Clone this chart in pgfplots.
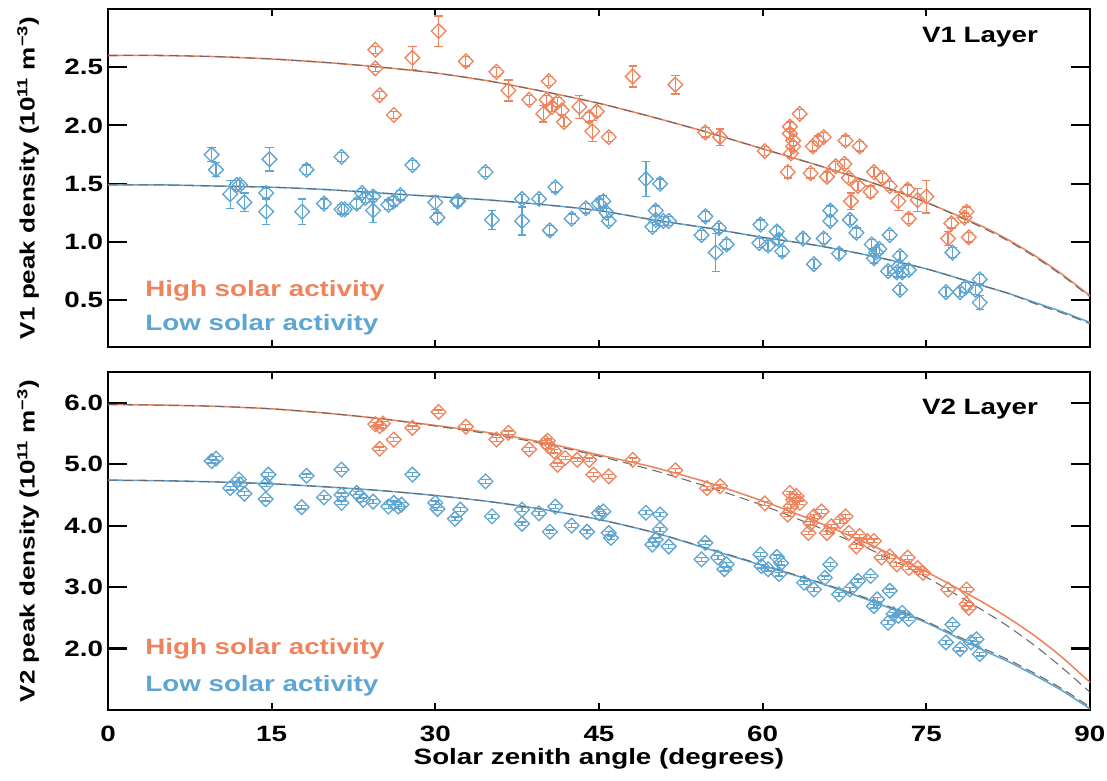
\documentclass[border=0pt]{standalone}
\usepackage{fontspec}
\setmainfont{Liberation Sans}[FakeStretch=1.25]
\usepackage{pgfplots}
\usepackage{pgfplotstable}
\pgfplotsset{compat=1.18}
\definecolor{hiorange}{RGB}{238,132,94}
\definecolor{lowblue}{RGB}{95,165,210}
\definecolor{fitgray}{RGB}{105,105,105}

% open diamond with equal diagonals
\pgfdeclareplotmark{dia}{%
  \pgfpathmoveto{\pgfqpoint{0pt}{\pgfplotmarksize}}%
  \pgfpathlineto{\pgfqpoint{\pgfplotmarksize}{0pt}}%
  \pgfpathlineto{\pgfqpoint{0pt}{-\pgfplotmarksize}}%
  \pgfpathlineto{\pgfqpoint{-\pgfplotmarksize}{0pt}}%
  \pgfpathclose\pgfusepathqstroke}

% V1 layer, high solar activity: sza, density, error
\pgfplotstableread{
x y e
24.5 2.65 0.03
24.5 2.49 0.03
24.9 2.26 0.03
26.2 2.09 0.03
27.9 2.58 0.10
30.3 2.81 0.13
32.8 2.55 0.04
35.6 2.46 0.04
36.7 2.30 0.09
38.6 2.22 0.04
40.4 2.38 0.04
40.2 2.22 0.04
39.9 2.10 0.07
40.7 2.16 0.04
41.2 2.20 0.04
41.8 2.03 0.04
41.6 2.13 0.04
43.2 2.16 0.10
44.1 2.07 0.04
44.4 1.95 0.09
44.8 2.12 0.04
45.9 1.90 0.04
48.1 2.42 0.09
52.0 2.35 0.08
54.75 1.94 0.04
56.1 1.90 0.07
60.2 1.78 0.04
62.5 1.99 0.04
62.5 1.93 0.04
62.8 1.87 0.04
62.8 1.82 0.04
62.6 1.76 0.04
62.3 1.60 0.05
63.4 2.10 0.04
64.4 1.59 0.04
64.6 1.82 0.04
65.1 1.87 0.04
65.6 1.90 0.04
65.9 1.56 0.04
66.7 1.65 0.04
67.6 1.87 0.04
67.5 1.67 0.04
68.1 1.35 0.07
67.9 1.55 0.04
68.9 1.82 0.04
68.75 1.48 0.04
69.9 1.43 0.05
70.2 1.60 0.04
71.0 1.55 0.04
71.65 1.48 0.04
72.45 1.35 0.08
73.3 1.45 0.04
73.4 1.20 0.04
74.2 1.36 0.10
75.0 1.39 0.14
77.0 1.03 0.06
77.3 1.16 0.04
78.5 1.21 0.04
78.7 1.26 0.04
78.9 1.04 0.04
}\vonehigh

% V1 layer, low solar activity
\pgfplotstableread{
x y e
9.5 1.75 0.06
9.9 1.62 0.06
11.2 1.41 0.12
11.8 1.49 0.04
12.1 1.49 0.04
12.5 1.34 0.08
14.8 1.71 0.10
14.5 1.42 0.04
14.5 1.26 0.11
17.8 1.26 0.11
18.2 1.62 0.04
19.8 1.33 0.04
21.4 1.73 0.04
21.4 1.28 0.04
21.7 1.28 0.04
22.8 1.33 0.04
23.3 1.42 0.04
23.6 1.38 0.04
24.3 1.27 0.10
24.3 1.39 0.04
25.7 1.32 0.04
26.2 1.35 0.04
26.8 1.40 0.04
27.9 1.66 0.04
30.0 1.34 0.06
30.2 1.21 0.04
32.0 1.35 0.04
32.1 1.35 0.04
34.6 1.60 0.04
35.2 1.19 0.08
37.95 1.37 0.04
37.95 1.18 0.12
39.5 1.37 0.04
40.5 1.10 0.04
41.0 1.47 0.04
42.5 1.20 0.04
43.8 1.29 0.04
45.0 1.33 0.04
45.4 1.35 0.05
45.9 1.18 0.04
45.7 1.25 0.04
49.3 1.54 0.15
50.6 1.50 0.04
50.2 1.27 0.04
50.2 1.19 0.04
49.9 1.13 0.04
50.9 1.18 0.04
51.4 1.18 0.04
54.75 1.22 0.04
54.4 1.06 0.04
56.0 1.12 0.04
55.7 0.91 0.16
56.7 0.98 0.04
59.8 1.15 0.04
59.7 0.99 0.04
60.5 0.97 0.04
61.3 1.09 0.04
61.5 1.02 0.04
61.8 0.92 0.04
63.7 1.03 0.04
64.7 0.81 0.04
65.6 1.03 0.04
66.2 1.27 0.04
66.2 1.18 0.04
67.0 0.90 0.04
68.0 1.19 0.04
68.6 1.08 0.04
71.65 1.06 0.04
70.0 0.98 0.04
70.2 0.86 0.04
70.7 0.94 0.04
70.4 0.91 0.04
71.5 0.75 0.04
72.45 0.79 0.04
72.6 0.88 0.04
72.3 0.74 0.04
72.8 0.74 0.04
73.4 0.76 0.04
72.6 0.59 0.04
77.4 0.91 0.04
76.8 0.57 0.04
78.1 0.57 0.04
78.6 0.61 0.04
79.5 0.59 0.04
79.9 0.68 0.04
79.9 0.48 0.06
}\vonelow

% V2 layer, high solar activity
\pgfplotstableread{
x y e
24.5 5.65 0.03
24.9 5.62 0.03
25.2 5.66 0.03
24.9 5.25 0.03
26.2 5.40 0.03
27.9 5.59 0.03
30.3 5.85 0.03
32.8 5.61 0.03
35.6 5.40 0.03
36.7 5.51 0.03
38.6 5.24 0.03
40.1 5.35 0.03
40.4 5.29 0.03
40.3 5.38 0.03
40.9 5.21 0.03
41.2 4.99 0.03
41.9 5.10 0.03
43.0 5.07 0.03
44.1 5.07 0.03
44.5 4.83 0.03
45.9 4.80 0.03
48.1 5.07 0.03
52.0 4.90 0.03
54.9 4.61 0.03
56.1 4.64 0.03
60.2 4.36 0.03
62.5 4.53 0.03
62.8 4.42 0.03
63.1 4.48 0.03
62.6 4.31 0.03
62.3 4.18 0.03
63.4 4.37 0.03
64.2 3.88 0.03
64.4 4.04 0.03
64.7 4.15 0.03
65.4 4.23 0.03
65.9 3.88 0.03
66.3 3.99 0.03
67.1 4.07 0.03
67.6 4.15 0.03
67.9 3.88 0.03
68.6 3.66 0.03
68.9 3.83 0.03
69.6 3.75 0.03
70.2 3.75 0.03
70.9 3.48 0.03
71.65 3.50 0.03
72.3 3.37 0.03
73.3 3.48 0.03
73.4 3.31 0.03
74.2 3.31 0.03
74.7 3.23 0.03
77.0 2.96 0.03
78.7 2.96 0.03
78.7 2.72 0.03
78.9 2.66 0.03
}\vtwohigh

% V2 layer, low solar activity
\pgfplotstableread{
x y e
9.5 5.05 0.03
9.9 5.09 0.03
11.2 4.61 0.03
12.0 4.75 0.03
12.1 4.67 0.03
12.5 4.52 0.03
14.7 4.83 0.03
14.5 4.67 0.03
14.45 4.43 0.03
17.75 4.30 0.03
18.2 4.81 0.03
19.8 4.46 0.03
21.4 4.91 0.03
21.4 4.50 0.03
21.4 4.37 0.03
22.8 4.53 0.03
23.1 4.48 0.03
23.4 4.42 0.03
24.3 4.39 0.03
25.7 4.31 0.03
26.2 4.37 0.03
26.6 4.31 0.03
26.9 4.34 0.03
27.9 4.83 0.03
30.0 4.37 0.03
30.2 4.27 0.03
31.8 4.11 0.03
32.3 4.26 0.03
35.2 4.15 0.03
34.6 4.72 0.03
37.95 4.26 0.03
37.95 4.03 0.03
39.5 4.20 0.03
40.5 3.90 0.03
41.0 4.31 0.03
42.5 4.00 0.03
43.9 3.90 0.03
45.0 4.20 0.03
45.4 4.23 0.03
45.9 3.88 0.03
46.1 3.80 0.03
49.3 4.21 0.03
50.6 4.18 0.03
50.6 3.94 0.03
49.9 3.69 0.03
50.2 3.77 0.03
51.4 3.66 0.03
54.75 3.72 0.03
54.4 3.45 0.03
55.9 3.48 0.03
56.7 3.37 0.03
56.5 3.29 0.03
59.8 3.53 0.03
59.9 3.34 0.03
60.5 3.29 0.03
61.3 3.49 0.03
61.7 3.39 0.03
61.5 3.21 0.03
63.8 3.07 0.03
64.7 2.96 0.03
65.7 3.15 0.03
66.2 3.37 0.03
67.0 2.88 0.03
68.0 2.96 0.03
68.75 3.10 0.03
69.9 3.18 0.03
70.2 2.69 0.03
70.5 2.80 0.03
71.65 2.94 0.03
71.5 2.42 0.03
72.0 2.56 0.03
72.45 2.53 0.03
72.8 2.58 0.03
73.4 2.48 0.03
77.4 2.39 0.03
76.8 2.10 0.03
78.1 1.99 0.03
79.1 2.10 0.03
79.6 2.15 0.03
79.9 1.91 0.03
}\vtwolow

\pgfplotsset{
  panel/.style={
    scale only axis,
    width=707pt, height=243.4pt,
    xmin=0, xmax=90,
    xtick={0,15,...,90},
    axis line style={line width=1.8pt},
    tick style={line width=1.5pt, black},
    xtick style={/pgfplots/major tick length=5pt},
    ytick style={/pgfplots/major tick length=13.5pt},
    tick align=inside,
    font=\fontsize{16}{19}\selectfont\bfseries,
    tick label style={font=\fontsize{16}{19}\selectfont\bfseries},
    /pgf/number format/assume math mode=true,
    yticklabel style={/pgf/number format/.cd, fixed, fixed zerofill, precision=1},
    ylabel style={at={(axis description cs:-0.0815,0.5)}, anchor=center,
      font=\fontsize{15}{18}\selectfont\bfseries},
    clip=false,
  },
  pts/.style={only marks, mark=dia, mark size=5.3pt,
    mark options={line width=0.95pt},
    error bars/y dir=both, error bars/y explicit,
    error bars/error mark options={rotate=90, line width=0.9pt, mark size=3pt},
    error bars/error bar style={line width=0.9pt}},
  fit/.style={line width=1.1pt, smooth, tension=0.4},
  chap/.style={line width=0.75pt, fitgray, smooth, tension=0.4, dash pattern=on 7pt off 4pt},
}

\begin{document}
\begin{tikzpicture}
\path[use as bounding box] (-77.76pt,-312.5pt) rectangle (719.3pt,249.8pt);

\begin{axis}[panel, at={(0,0)},
  ymin=0.1, ymax=3.0,
  ytick={0.5,1.0,1.5,2.0,2.5},
  xticklabels={},
  ylabel={V1 peak density (10\textsuperscript{11} m\textsuperscript{−3})},
]
\addplot[fit, hiorange] coordinates {
(0,2.60) (5,2.60) (10,2.59) (15,2.57) (20,2.54) (25,2.50) (30,2.45) (35,2.38)
(40,2.29) (45,2.19) (50,2.07) (55,1.94) (60,1.80) (65,1.66) (70,1.51) (75,1.34)
(80,1.14) (82.5,1.02) (85,0.88) (87.5,0.72) (90,0.54)};
\addplot[chap] coordinates {
(0,2.60) (5,2.60) (10,2.59) (15,2.57) (20,2.54) (25,2.50) (30,2.45) (35,2.38)
(40,2.29) (45,2.19) (50,2.07) (55,1.94) (60,1.80) (65,1.66) (70,1.51) (75,1.34)
(80,1.13) (82.5,1.01) (85,0.87) (87.5,0.71) (90,0.53)};
\addplot[fit, lowblue] coordinates {
(0,1.49) (5,1.49) (10,1.48) (15,1.47) (20,1.45) (25,1.42) (30,1.39) (35,1.36)
(40,1.32) (45,1.27) (50,1.19) (55,1.12) (60,1.04) (65,0.97) (70,0.88) (75,0.77)
(80,0.63) (82.5,0.56) (85,0.48) (87.5,0.40) (90,0.31)};
\addplot[chap] coordinates {
(0,1.49) (5,1.49) (10,1.48) (15,1.47) (20,1.45) (25,1.42) (30,1.39) (35,1.36)
(40,1.32) (45,1.27) (50,1.19) (55,1.12) (60,1.04) (65,0.97) (70,0.88) (75,0.77)
(80,0.63) (82.5,0.56) (85,0.47) (87.5,0.39) (90,0.30)};
\addplot[pts, hiorange] table[x=x, y=y, y error=e] {\vonehigh};
\addplot[pts, lowblue] table[x=x, y=y, y error=e] {\vonelow};
\node[anchor=base west, text=hiorange, font=\fontsize{16}{19}\selectfont\bfseries] at (rel axis cs:0.033,0.148) {High solar activity};
\node[anchor=base west, text=lowblue, font=\fontsize{16}{19}\selectfont\bfseries] at (rel axis cs:0.033,0.05) {Low solar activity};
\node[anchor=base east, font=\fontsize{16}{19}\selectfont\bfseries] at (rel axis cs:0.952,0.90) {V1 Layer};
\end{axis}

\begin{axis}[panel, at={(0,-261.4pt)},
  ymin=1.0, ymax=6.5,
  ytick={2,3,4,5,6},
  xticklabel style={anchor=base, yshift=-23pt},
  xlabel={Solar zenith angle (degrees)},
  xlabel style={at={(axis description cs:0.5,0)}, anchor=base, yshift=-39.6pt},
  ylabel={V2 peak density (10\textsuperscript{11} m\textsuperscript{−3})},
]
\addplot[fit, hiorange] coordinates {
(0,5.97) (5,5.96) (10,5.94) (15,5.90) (20,5.83) (25,5.74) (30,5.63) (35,5.51)
(40,5.35) (45,5.15) (50,4.95) (55,4.70) (60,4.40) (65,4.06) (70,3.68) (75,3.25)
(80,2.77) (82.5,2.50) (85,2.20) (87.5,1.85) (90,1.45)};
\addplot[chap] coordinates {
(0,5.97) (5,5.96) (10,5.94) (15,5.90) (20,5.83) (25,5.74) (30,5.62) (35,5.49)
(40,5.33) (45,5.13) (50,4.90) (55,4.63) (60,4.33) (65,3.98) (70,3.60) (75,3.16)
(80,2.64) (82.5,2.36) (85,2.04) (87.5,1.68) (90,1.29)};
\addplot[fit, lowblue] coordinates {
(0,4.74) (5,4.73) (10,4.71) (15,4.68) (20,4.63) (25,4.57) (30,4.49) (35,4.39)
(40,4.26) (45,4.10) (50,3.89) (55,3.62) (60,3.35) (65,3.08) (70,2.77) (75,2.42)
(80,1.99) (82.5,1.79) (85,1.56) (87.5,1.31) (90,1.02)};
\addplot[chap] coordinates {
(0,4.74) (5,4.73) (10,4.71) (15,4.68) (20,4.63) (25,4.57) (30,4.49) (35,4.39)
(40,4.26) (45,4.10) (50,3.89) (55,3.63) (60,3.36) (65,3.09) (70,2.79) (75,2.44)
(80,2.02) (82.5,1.82) (85,1.59) (87.5,1.34) (90,1.05)};
\addplot[pts, hiorange] table[x=x, y=y, y error=e] {\vtwohigh};
\addplot[pts, lowblue] table[x=x, y=y, y error=e] {\vtwolow};
\node[anchor=base west, text=hiorange, font=\fontsize{16}{19}\selectfont\bfseries] at (rel axis cs:0.033,0.163) {High solar activity};
\node[anchor=base west, text=lowblue, font=\fontsize{16}{19}\selectfont\bfseries] at (rel axis cs:0.033,0.054) {Low solar activity};
\node[anchor=base east, font=\fontsize{16}{19}\selectfont\bfseries] at (rel axis cs:0.952,0.875) {V2 Layer};
\end{axis}
\end{tikzpicture}
\end{document}
